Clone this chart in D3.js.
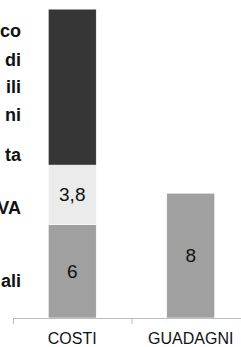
<!DOCTYPE html>
<html>
<head>
<meta charset="utf-8">
<script src="https://cdn.jsdelivr.net/npm/d3@7"></script>
<style>
  body { margin: 0; background: #fff; }
  svg { display: block; }
</style>
</head>
<body>
<script>
// dati del grafico
var categorie = ["COSTI", "GUADAGNI"];
var serieNomi = ["scuro", "chiaro", "medio"];
var valoriScuro = [10, 0];
var valoriChiaro = [3.8, 0];
var valoriMedio = [6, 8];
var etichetteVisibili = [false, true, true]; // quali serie mostrano il valore
var coloriSerie = ["#363636", "#ebebeb", "#a0a0a0"];

// frammenti della legenda tagliata a sinistra
var legendaTesti = ["co", "di", "ili", "ni", "ta", "VA", "ali"];
var legendaY = [31, 60, 87, 115, 155, 208, 281];

var W = 241, H = 347;

var svg = d3.select("body").append("svg")
    .attr("width", W)
    .attr("height", H);

// scale
var x = d3.scaleBand()
    .domain(categorie)
    .range([13, 250]);

var y = d3.scaleLinear()
    .domain([0, 20])
    .range([318, 6]);

var larghezzaBarra = x.bandwidth() * 0.405;
var formato = d3.format(".1~f");

// costruisco la tabella per d3.stack
var tabella = categorie.map(function (c, i) {
  return { cat: c, scuro: valoriScuro[i], chiaro: valoriChiaro[i], medio: valoriMedio[i] };
});

// l'ordine di impilamento: medio in basso, poi chiaro, poi scuro
var stack = d3.stack().keys(["medio", "chiaro", "scuro"]);
var strati = stack(tabella);

var gBarre = svg.append("g");

strati.forEach(function (strato) {
  var k = serieNomi.indexOf(strato.key);
  var pezzi = strato.filter(function (d) { return d.data[strato.key] > 0; });

  gBarre.selectAll(null)
    .data(pezzi)
    .enter().append("rect")
    .attr("x", function (d) { return x(d.data.cat) + x.bandwidth() / 2 - larghezzaBarra / 2; })
    .attr("y", function (d) { return y(d[1]); })
    .attr("width", larghezzaBarra)
    .attr("height", function (d) { return y(d[0]) - y(d[1]); })
    .style("fill", coloriSerie[k])
    .style("stroke", "#fff")
    .style("stroke-width", 0.6);

  if (etichetteVisibili[k]) {
    gBarre.selectAll(null)
      .data(pezzi)
      .enter().append("text")
      .attr("x", function (d) { return x(d.data.cat) + x.bandwidth() / 2; })
      .attr("y", function (d) { return (y(d[0]) + y(d[1])) / 2; })
      .attr("text-anchor", "middle")
      .attr("dominant-baseline", "central")
      .style("font-family", "Liberation Sans, Arial, sans-serif")
      .style("font-size", "19px")
      .style("fill", "#111")
      .text(function (d) { return formato(d.data[strato.key]).replace(".", ","); });
  }
});

// asse x
var gAsse = svg.append("g");

gAsse.append("line")
    .attr("x1", x.range()[0])
    .attr("x2", x.range()[1])
    .attr("y1", 318.5)
    .attr("y2", 318.5)
    .style("stroke", "#bdbdbd")
    .style("stroke-width", 1);

gAsse.selectAll(null)
    .data(categorie.concat(["fine"]))
    .enter().append("line")
    .attr("x1", function (d, i) { return x.range()[0] + i * x.step() + 0.5; })
    .attr("x2", function (d, i) { return x.range()[0] + i * x.step() + 0.5; })
    .attr("y1", 318.5)
    .attr("y2", 324)
    .style("stroke", "#bdbdbd")
    .style("stroke-width", 1);

gAsse.selectAll(null)
    .data(categorie)
    .enter().append("text")
    .attr("x", function (d) { return x(d) + x.bandwidth() / 2; })
    .attr("y", 344)
    .attr("text-anchor", "middle")
    .style("font-family", "Liberation Sans, Arial, sans-serif")
    .style("font-size", "16px")
    .style("fill", "#111")
    .text(function (d) { return d; });

// legenda (tagliata)
svg.selectAll(null)
    .data(legendaTesti)
    .enter().append("text")
    .attr("x", 21)
    .attr("y", function (d, i) { return legendaY[i]; })
    .attr("text-anchor", "end")
    .attr("dominant-baseline", "central")
    .style("font-family", "Liberation Sans, Arial, sans-serif")
    .style("font-weight", "bold")
    .style("font-size", "18px")
    .style("fill", "#111")
    .text(function (d) { return d; });
</script>
</body>
</html>
